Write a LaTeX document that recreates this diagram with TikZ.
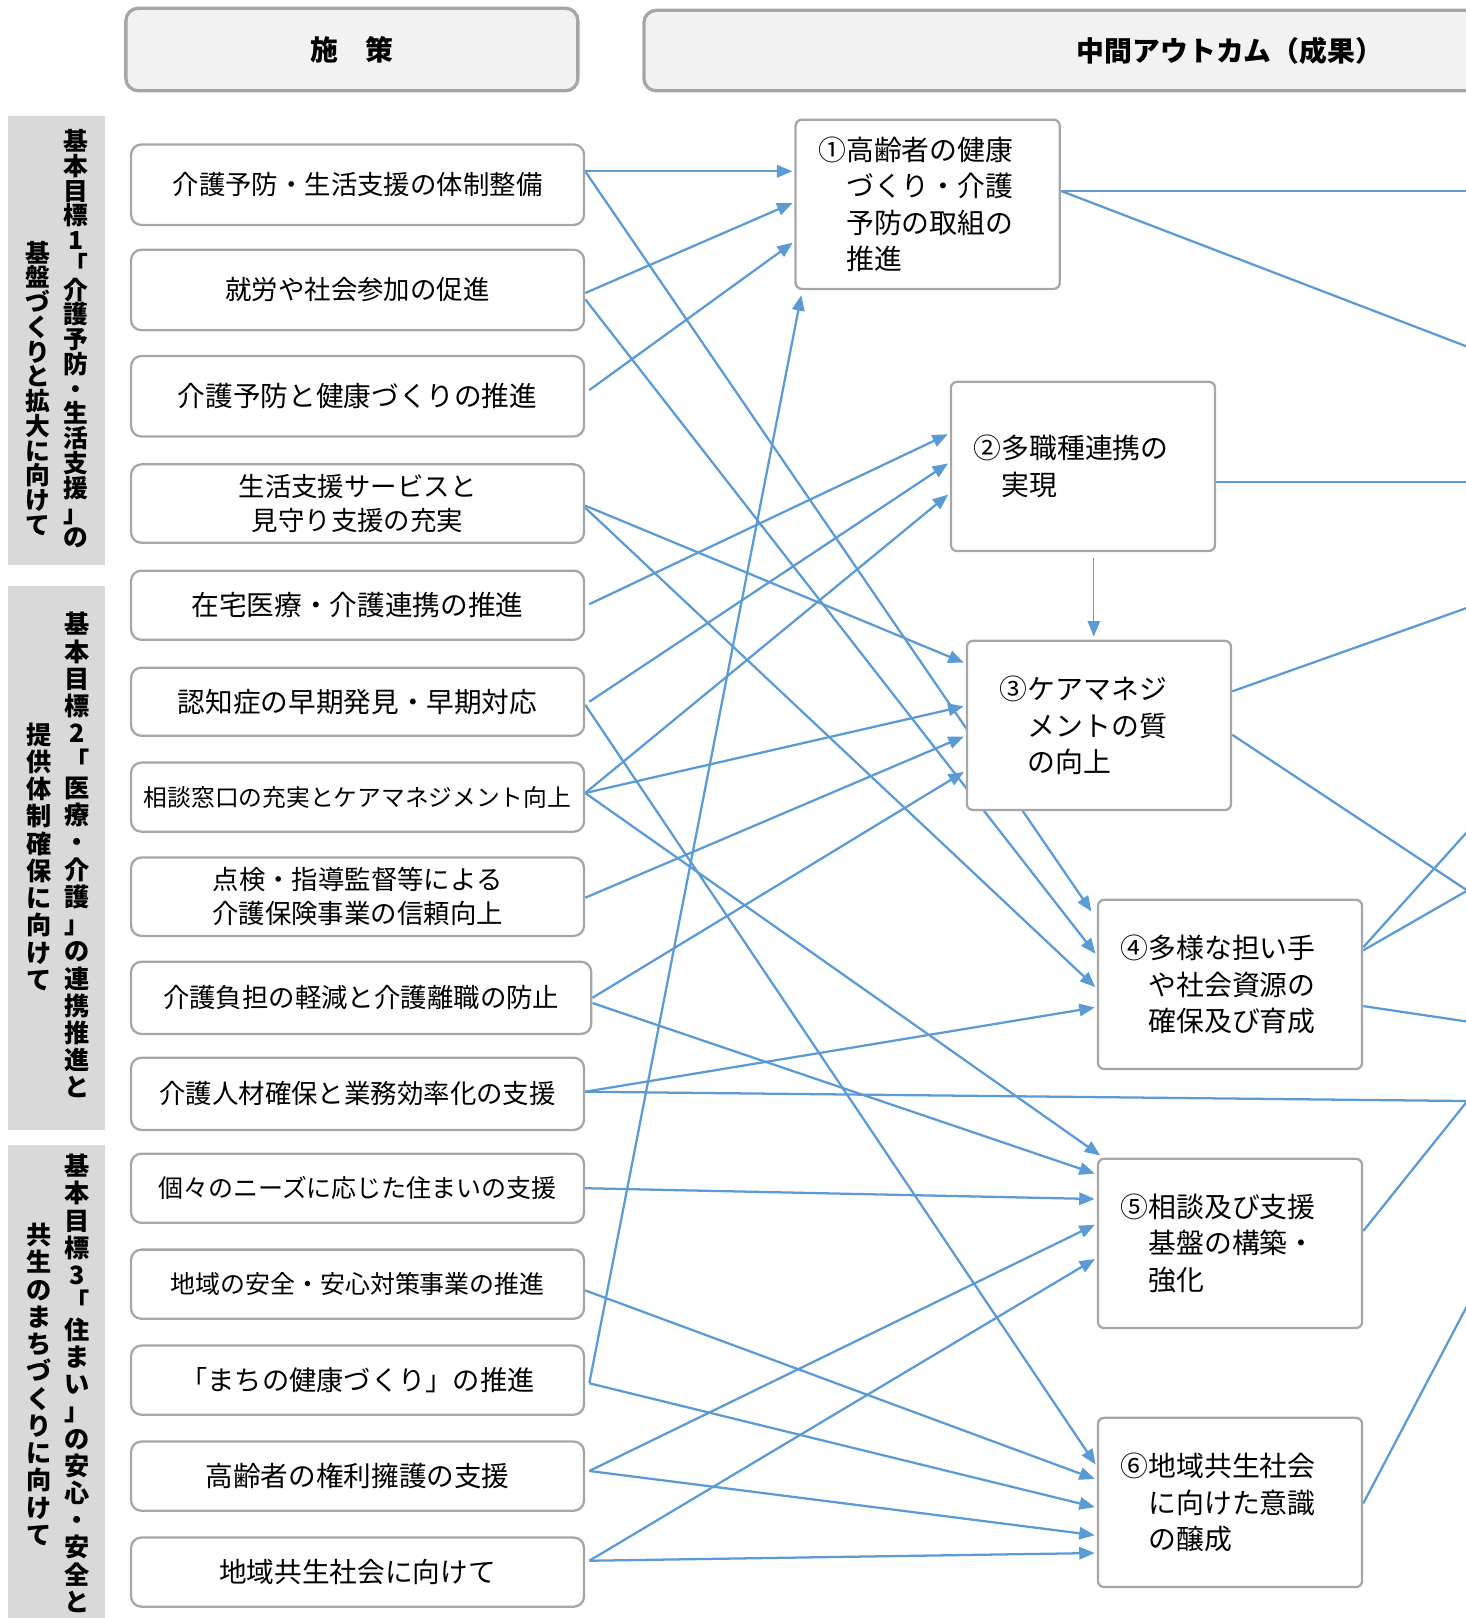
\documentclass[tikz,border=0pt]{standalone}
\usepackage{fontspec}
\setmainfont{Noto Sans CJK JP}
\usetikzlibrary{arrows.meta,calc}
\pgfdeclarelayer{bglayer}
\pgfdeclarelayer{edges}
\pgfsetlayers{bglayer,edges,main}
\definecolor{edgeblue}{HTML}{5B9BD5}
\definecolor{boxgray}{HTML}{A6A6A6}
\definecolor{bandgray}{HTML}{D9D9D9}
\definecolor{headfill}{HTML}{F2F2F2}
\begin{document}
\begin{tikzpicture}[x=0.5pt,y=-0.5pt,
  pbox/.style={draw=boxgray, line width=1.1pt, rounded corners=5pt, fill=white,
    minimum width=219.5pt, align=center, inner sep=0pt,
    font=\fontsize{12.8}{16.5}\selectfont},
  obox/.style={draw=boxgray, line width=1.1pt, rounded corners=3pt, fill=white,
    minimum width=128pt, minimum height=82pt, text width=106pt, inner xsep=11pt,
    inner ysep=0pt, align=left, font=\fontsize{13.5}{17.5}\selectfont},
  headbox/.style={draw=boxgray, line width=1.6pt, rounded corners=6pt, fill=headfill,
    font=\bfseries\fontsize{13.5}{16}\selectfont},
  vtext/.style={align=center, inner sep=0pt, anchor=north},
  vta/.style={vtext, font=\bfseries\fontsize{12}{12}\selectfont},
  vtb/.style={vtext, font=\bfseries\fontsize{12.2}{13.2}\selectfont},
  arw/.style={draw=edgeblue, line width=1.1pt, -{Triangle[length=7.5pt,width=6pt]}, shorten >=1pt},
  ln/.style={draw=edgeblue, line width=1.1pt}
]
\useasboundingbox (0,0) rectangle (1420,1568);

% bands
\begin{pgfonlayer}{bglayer}
\fill[bandgray] (8,112) rectangle (102,548);
\fill[bandgray] (8,568) rectangle (102,1095);
\fill[bandgray] (8,1110) rectangle (102,1600);
\end{pgfonlayer}

\node[vta] (V1a) at (74,125) {基\\本\\目\\標\\1\\「\\介\\護\\予\\防\\・\\生\\活\\支\\援\\」\\の};
\node[vta] (V1b) at (37,233) {基\\盤\\づ\\く\\り\\と\\拡\\大\\に\\向\\け\\て};
\node[vtb] (V2a) at (75,593) {基\\本\\目\\標\\2\\「\\医\\療\\・\\介\\護\\」\\の\\連\\携\\推\\進\\と};
\node[vtb] (V2b) at (38,700) {提\\供\\体\\制\\確\\保\\に\\向\\け\\て};
\node[vtb] (V3a) at (75,1118) {基\\本\\目\\標\\3\\「\\住\\ま\\い\\」\\の\\安\\心\\・\\安\\全\\と};
\node[vtb] (V3b) at (38,1185) {共\\生\\の\\ま\\ち\\づ\\く\\り\\に\\向\\け\\て};

% headers
\node[headbox, minimum width=219pt, minimum height=40pt] (H1) at (341,48) {施　策};
\node[headbox, minimum width=568pt, minimum height=39pt] (H2) at (1192,49) {中間アウトカム（成果）};

% left boxes
\node[pbox, minimum height=39pt] (B1) at (346.5,179) {介護予防・生活支援の体制整備};
\node[pbox, minimum height=39pt] (B2) at (346.5,281) {就労や社会参加の促進};
\node[pbox, minimum height=39pt, font=\fontsize{13.4}{16.5}\selectfont] (B3) at (346.5,384) {介護予防と健康づくりの推進};
\node[pbox, minimum height=38pt] (B4) at (346.5,488) {生活支援サービスと\\見守り支援の充実};
\node[pbox, minimum height=33.5pt, font=\fontsize{13.4}{16.5}\selectfont] (B5) at (346.5,586.5) {在宅医療・介護連携の推進};
\node[pbox, minimum height=33pt, font=\fontsize{13.4}{16.5}\selectfont] (B6) at (346.5,680) {認知症の早期発見・早期対応};
\node[pbox, minimum height=33.5pt, font=\fontsize{11.5}{14}\selectfont] (B7) at (346.5,772.5) {相談窓口の充実とケアマネジメント向上};
\node[pbox, minimum height=38pt] (B8) at (346.5,869) {点検・指導監督等による\\介護保険事業の信頼向上};
\node[pbox, minimum height=35pt, minimum width=223pt] (B9) at (350,967) {介護負担の軽減と介護離職の防止};
\node[pbox, minimum height=35pt] (B10) at (346.5,1060) {介護人材確保と業務効率化の支援};
\node[pbox, minimum height=33.5pt, font=\fontsize{12.1}{16.5}\selectfont] (B11) at (346.5,1151.5) {個々のニーズに応じた住まいの支援};
\node[pbox, minimum height=33.5pt, font=\fontsize{12.1}{16.5}\selectfont] (B12) at (346.5,1244.5) {地域の安全・安心対策事業の推進};
\node[pbox, minimum height=33.5pt, font=\fontsize{13.2}{16.5}\selectfont] (B13) at (346.5,1337.5) {「まちの健康づくり」の推進};
\node[pbox, minimum height=33.5pt, font=\fontsize{13.4}{16.5}\selectfont] (B14) at (346.5,1430.5) {高齢者の権利擁護の支援};
\node[pbox, minimum height=33.5pt, font=\fontsize{13.4}{16.5}\selectfont] (B15) at (346.5,1523.5) {地域共生社会に向けて};

% outcome boxes
\node[obox] (O1) at (899,198) {①高齢者の健康\\\hspace*{1em}づくり・介護\\\hspace*{1em}予防の取組の\\\hspace*{1em}推進};
\node[obox] (O2) at (1049.5,452) {②多職種連携の\\\hspace*{1em}実現};
\node[obox] (O3) at (1065,703) {\hspace*{5pt}③ケアマネジ\\\hspace*{5pt}\hspace*{1em}メントの質\\\hspace*{5pt}\hspace*{1em}の向上};
\node[obox] (O4) at (1192,954) {④多様な担い手\\\hspace*{1em}や社会資源の\\\hspace*{1em}確保及び育成};
\node[obox] (O5) at (1192,1205) {⑤相談及び支援\\\hspace*{1em}基盤の構築・\\\hspace*{1em}強化};
\node[obox] (O6) at (1192,1456) {⑥地域共生社会\\\hspace*{1em}に向けた意識\\\hspace*{1em}の醸成};

% free ends at the right edge
\coordinate (R1) at (1422,185);
\coordinate (R2) at (1422,336);
\coordinate (R3) at (1422,467);
\coordinate (R4) at (1422,589);
\coordinate (R5) at (1422,1067);
\coordinate (R6) at (1422,863);
\coordinate (R7) at (1422,806);
\coordinate (R8) at (1422,990);
\coordinate (R9) at (1422,1265);

\begin{pgfonlayer}{edges}
% into O1
\draw[arw] ($(B1.east)+(0,-13)$) -- ($(O1.west)+(0,-32)$);
\draw[arw] ($(B2.east)+(0,3)$) -- ($(O1.west)+(0,-2)$);
\draw[arw] ($(B3.east)+(4,-6)$) -- ($(O1.west)+(0,36)$);
\draw[arw] ($(B13.east)+(4,3)$) -- ($(O1.south west)+(7,3)$);
% into O2
\draw[arw] ($(B5.east)+(4,-1)$) -- ($(O2.west)+(0,-32)$);
\draw[arw] ($(B6.east)+(4,0)$) -- ($(O2.west)+(0,-4)$);
\draw[arw] ($(B7.east)+(0,-4)$) -- ($(O2.west)+(0,26)$);
% into O3
\draw[arw] ($(B4.east)+(0,2)$) -- ($(O3.west)+(0,-60)$);
\draw[arw] ($(B7.east)+(0,-4)$) -- ($(O3.west)+(0,-19)$);
\draw[arw] ($(B8.east)+(0,1)$) -- ($(O3.west)+(0,10)$);
\draw[arw] ($(B9.east)+(0,0)$) -- ($(O3.west)+(0,44)$);
\draw[draw=edgeblue, line width=0.6pt, -{Triangle[length=7.5pt,width=6pt]}] ($(O2.south)+(10.5,6)$) -- ($(O3.north)+(-5,-3)$);
% into O4
\draw[arw] ($(B1.east)+(0,-13)$) -- ($(O4.west)+(-4,-69)$);
\draw[arw] ($(B2.east)+(0,9)$) -- ($(O4.west)+(0,-28)$);
\draw[arw] ($(B4.east)+(0,4)$) -- ($(O4.west)+(0,4)$);
\draw[arw] ($(B10.east)+(0,-2)$) -- ($(O4.west)+(0,22)$);
% into O5
\draw[arw] ($(B7.east)+(0,-4)$) -- ($(O5.north west)+(5,-1)$);
\draw[arw] ($(B9.east)+(0,5)$) -- ($(O5.west)+(0,-67)$);
\draw[arw] (B11.east) -- ($(O5.west)+(0,-43)$);
\draw[arw] ($(B14.east)+(4,-5)$) -- ($(O5.west)+(0,-19)$);
\draw[arw] ($(B15.east)+(4,-11)$) -- ($(O5.west)+(0,14)$);
% into O6
\draw[arw] ($(B6.east)+(0,3)$) -- ($(O6.west)+(0,-35)$);
\draw[arw] ($(B12.east)+(0,6)$) -- ($(O6.west)+(0,-22)$);
\draw[arw] ($(B13.east)+(4,3)$) -- ($(O6.west)+(0,5)$);
\draw[arw] ($(B14.east)+(4,-5)$) -- ($(O6.west)+(0,32)$);
\draw[arw] ($(B15.east)+(4,-11)$) -- ($(O6.west)+(0,49)$);
% towards the right edge
\draw[ln] ($(B10.east)+(0,-2)$) -- (R5);
\draw[ln] ($(O1.east)+(0,-13)$) -- (R1);
\draw[ln] ($(O1.east)+(0,-13)$) -- (R2);
\draw[ln] ($(O2.east)+(0,15)$) -- (R3);
\draw[ln] ($(O3.east)+(0,-33)$) -- (R4);
\draw[ln] ($(O3.east)+(0,9)$) -- (R6);
\draw[ln] ($(O4.east)+(0,-36)$) -- (R7);
\draw[ln] ($(O4.east)+(0,-33)$) -- (R6);
\draw[ln] ($(O4.east)+(0,21)$) -- (R8);
\draw[ln] ($(O5.east)+(0,-12)$) -- (R5);
\draw[ln] ($(O6.east)+(0,1)$) -- (R9);
\end{pgfonlayer}
\end{tikzpicture}
\end{document}
